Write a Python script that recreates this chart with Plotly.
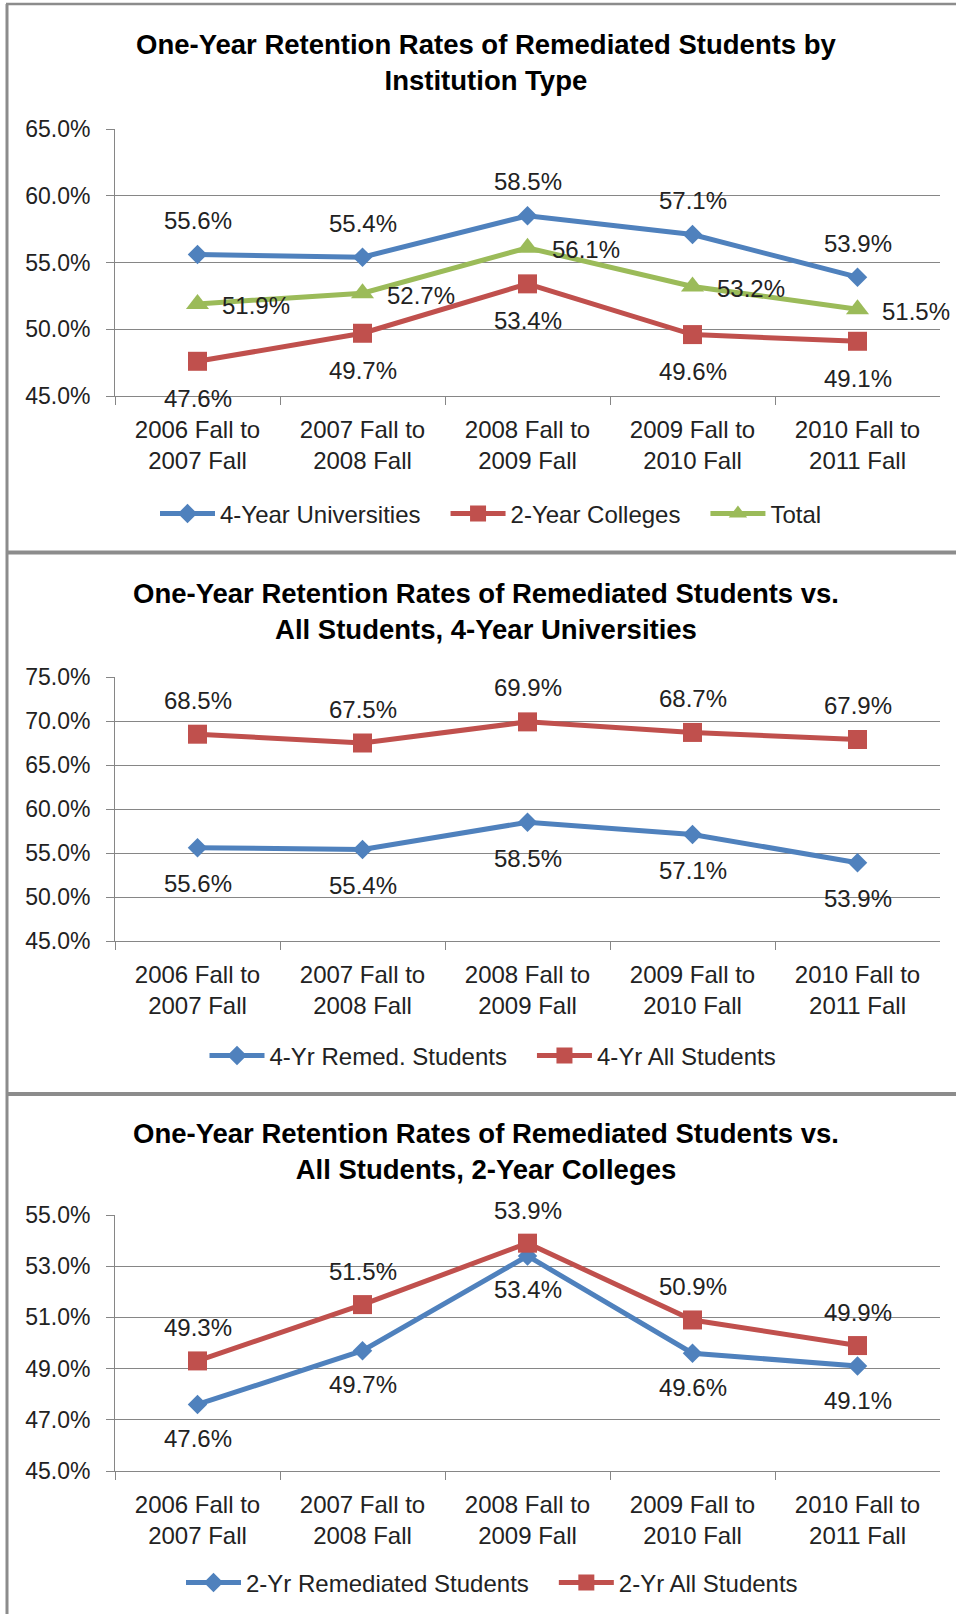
import plotly.graph_objects as go

W, H = 956, 1614

categories = ["2006 Fall to<br>2007 Fall", "2007 Fall to<br>2008 Fall", "2008 Fall to<br>2009 Fall",
              "2009 Fall to<br>2010 Fall", "2010 Fall to<br>2011 Fall"]

# Panel 1
p1_title = "One-Year Retention Rates of Remediated Students by<br>Institution Type"
p1_univ = [55.6, 55.4, 58.5, 57.1, 53.9]
p1_coll = [47.6, 49.7, 53.4, 49.6, 49.1]
p1_total = [51.9, 52.7, 56.1, 53.2, 51.5]
p1_names = ["4-Year Universities", "2-Year Colleges", "Total"]

# Panel 2
p2_title = "One-Year Retention Rates of Remediated Students vs.<br>All Students, 4-Year Universities"
p2_remed = [55.6, 55.4, 58.5, 57.1, 53.9]
p2_all = [68.5, 67.5, 69.9, 68.7, 67.9]
p2_names = ["4-Yr Remed. Students", "4-Yr All Students"]

# Panel 3
p3_title = "One-Year Retention Rates of Remediated Students vs.<br>All Students, 2-Year Colleges"
p3_remed = [47.6, 49.7, 53.4, 49.6, 49.1]
p3_all = [49.3, 51.5, 53.9, 50.9, 49.9]
p3_names = ["2-Yr Remediated Students", "2-Yr All Students"]

BLUE, RED, GREEN = "#4F81BD", "#C0504D", "#9BBB59"
GRID = "#868686"
BORDER = "#8C8C8C"
FONT = "Liberation Sans"
FS_TICK = 23
FS = 24
TXT = "#222222"
GAP = "\u00a0\u00a0\u00a0"  # extra spacing after a legend entry


def py(p):
    return 1 - p / H


def px(p):
    return p / W


fig = go.Figure()

marker_style = {
    BLUE: dict(symbol="diamond", size=15),
    RED: dict(symbol="square", size=19),
    GREEN: dict(symbol="triangle-up", size=20),
}


def add_series(vals, name, color, axis, legend, last=False):
    m = marker_style[color]
    fig.add_trace(go.Scatter(
        x=categories, y=vals, name=name if last else name + GAP, mode="lines+markers",
        line=dict(color=color, width=5),
        marker=dict(symbol=m["symbol"], size=m["size"], color=color),
        xaxis="x" + axis, yaxis="y" + axis, legend=legend, cliponaxis=False,
    ))


annotations = []


def add_labels(vals, axis, xshift=0, yshift=0):
    for c, v in zip(categories, vals):
        annotations.append(dict(
            x=c, y=v, xref="x" + axis, yref="y" + axis, text=f"{v:.1f}%",
            showarrow=False, xshift=xshift, yshift=yshift,
            font=dict(family=FONT, size=FS, color=TXT),
        ))


# Panel 1 traces
add_series(p1_univ, p1_names[0], BLUE, "", "legend")
add_series(p1_coll, p1_names[1], RED, "", "legend")
add_series(p1_total, p1_names[2], GREEN, "", "legend", last=True)
add_labels(p1_univ, "", yshift=34)
add_labels(p1_coll, "", yshift=-37)
add_labels(p1_total, "", xshift=58, yshift=-2)

# Panel 2
add_series(p2_remed, p2_names[0], BLUE, "2", "legend2")
add_series(p2_all, p2_names[1], RED, "2", "legend2", last=True)
add_labels(p2_remed, "2", yshift=-36)
add_labels(p2_all, "2", yshift=34)

# Panel 3
add_series(p3_remed, p3_names[0], BLUE, "3", "legend3")
add_series(p3_all, p3_names[1], RED, "3", "legend3", last=True)
add_labels(p3_remed, "3", yshift=-34)
add_labels(p3_all, "3", yshift=33)

# Titles
for t, yc in [(p1_title, 62), (p2_title, 611), (p3_title, 1151)]:
    annotations.append(dict(
        x=px(486), y=py(yc), xref="paper", yref="paper", text="<b>" + t + "</b>",
        showarrow=False, xanchor="center", yanchor="middle",
        font=dict(family=FONT, size=27.5, color="#000000"),
    ))

xdom = [px(115), px(940)]
xcommon = dict(
    domain=xdom, type="category", categoryorder="array", categoryarray=categories,
    range=[-0.5, 4.5], showline=True, linecolor=GRID, linewidth=1,
    ticks="outside", tickson="boundaries", ticklen=8, tickcolor=GRID,
    showgrid=False, tickfont=dict(family=FONT, size=FS, color=TXT),
    ticklabelstandoff=12, automargin=False,
)
ycommon = dict(
    showline=True, linecolor=GRID, linewidth=1, ticks="outside", ticklen=8, tickcolor=GRID,
    showgrid=True, gridcolor=GRID, gridwidth=1, zeroline=False, ticksuffix="%",
    tickformat=".1f", tickfont=dict(family=FONT, size=FS_TICK, color=TXT),
    ticklabelstandoff=11, automargin=False, tick0=45,
)

legcommon = dict(orientation="h", xanchor="center", yanchor="middle", itemwidth=55,
                 font=dict(family=FONT, size=FS, color=TXT), bgcolor="rgba(0,0,0,0)")

fig.update_layout(
    width=W, height=H, margin=dict(l=0, r=0, t=0, b=0, pad=0, autoexpand=False),
    paper_bgcolor="white", plot_bgcolor="white",
    font=dict(family=FONT, size=FS, color=TXT),
    xaxis=dict(anchor="y", **xcommon),
    xaxis2=dict(anchor="y2", **xcommon),
    xaxis3=dict(anchor="y3", **xcommon),
    yaxis=dict(anchor="x", domain=[py(396), py(129)], range=[45, 65], dtick=5, **ycommon),
    yaxis2=dict(anchor="x2", domain=[py(941), py(677)], range=[45, 75], dtick=5, **ycommon),
    yaxis3=dict(anchor="x3", domain=[py(1471), py(1215)], range=[45, 55], dtick=2, **ycommon),
    legend=dict(x=px(491), y=py(514), **legcommon),
    legend2=dict(x=px(493), y=py(1056), **legcommon),
    legend3=dict(x=px(492), y=py(1583), **legcommon),
    annotations=annotations,
    showlegend=True,
)

# Panel borders
shapes = [
    dict(type="line", xref="paper", yref="paper", x0=px(7), x1=px(7), y0=py(4), y1=py(H), line=dict(color=BORDER, width=3)),
    dict(type="line", xref="paper", yref="paper", x0=px(6), x1=1, y0=py(4), y1=py(4), line=dict(color=BORDER, width=2.5)),
    dict(type="line", xref="paper", yref="paper", x0=px(6), x1=1, y0=py(552.5), y1=py(552.5), line=dict(color=BORDER, width=4)),
    dict(type="line", xref="paper", yref="paper", x0=px(6), x1=1, y0=py(1094), y1=py(1094), line=dict(color=BORDER, width=4)),
]
fig.update_layout(shapes=shapes)

fig.write_html("out.html", config={"displayModeBar": False},
               post_script="document.body.style.margin='0px';")
